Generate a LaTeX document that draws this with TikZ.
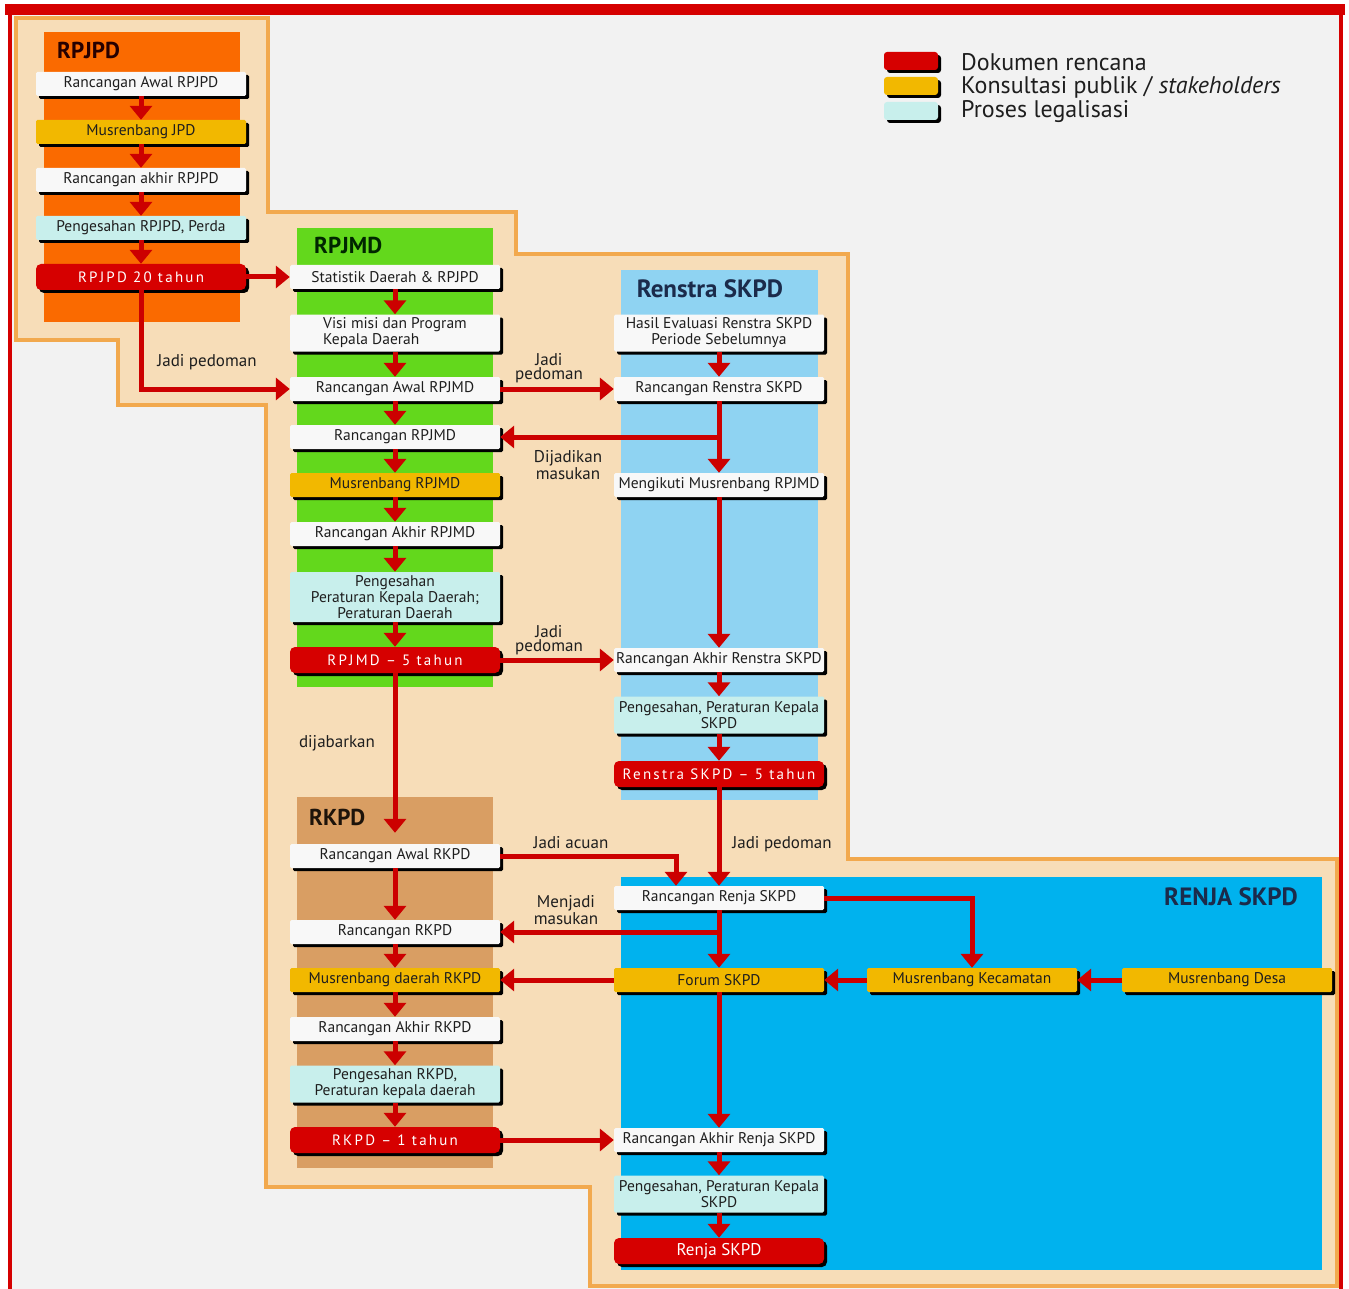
\documentclass[tikz,border=0pt]{standalone}
\usepackage{fontspec}
\setmainfont{PT Sans}
\newfontfamily\ptsans{PT Sans}
\newfontfamily\ptspaced[LetterSpace=15]{PT Sans}
\usetikzlibrary{arrows.meta,shadows}
\definecolor{bggray}{HTML}{F2F2F2}
\definecolor{framered}{HTML}{D50000}
\definecolor{beige}{HTML}{F7DDB8}
\definecolor{beigeedge}{HTML}{F2A94E}
\definecolor{pnlorange}{HTML}{FA6A00}
\definecolor{pnlgreen}{HTML}{63D81C}
\definecolor{pnlltblue}{HTML}{8FD3F2}
\definecolor{pnltan}{HTML}{D99E63}
\definecolor{pnlblue}{HTML}{00B2EE}
\definecolor{boxwhite}{HTML}{F8F8F8}
\definecolor{boxyellow}{HTML}{F2B800}
\definecolor{boxcyan}{HTML}{C8EFEC}
\definecolor{boxred}{HTML}{D60000}
\definecolor{arrred}{HTML}{CC0000}
\definecolor{txtdark}{HTML}{1E1E1E}
\definecolor{ttlnavy}{HTML}{1B2B4B}
\newcommand\bxfont{\ptsans\fontsize{15.5}{16}\selectfont}
\newcommand\redfont{\ptspaced\fontsize{15}{16}\selectfont}
\newcommand\lblfont{\ptsans\fontsize{17}{14.5}\selectfont}
\newcommand\ttlfont{\ptsans\bfseries\fontsize{23}{24}\selectfont}
\newcommand\bigttlfont{\ptsans\bfseries\fontsize{25}{26}\selectfont}
\newcommand\legfont{\ptsans\fontsize{24}{26}\selectfont}
\tikzset{
 bx/.style={rounded corners=1.5pt, minimum width=210pt, minimum height=24pt,
   inner sep=1pt, align=center, font=\bxfont, text=txtdark,
   drop shadow={shadow xshift=3pt, shadow yshift=-3pt, opacity=1, fill=black}},
 wbox/.style={bx, fill=boxwhite},
 ybox/.style={bx, fill=boxyellow},
 cbox/.style={bx, fill=boxcyan},
 rbox/.style={bx, fill=boxred, rounded corners=5pt, minimum height=26pt, text=white, font=\redfont},
 arr/.style={draw=arrred, line width=5pt, -{Triangle[width=22pt,length=14pt]}},
 lbl/.style={font=\lblfont, text=txtdark, align=center, inner sep=0pt},
 ttl/.style={font=\ttlfont, inner sep=0pt},
 legbox/.style={rounded corners=3pt, minimum width=54pt, minimum height=18pt, inner sep=0pt,
   drop shadow={shadow xshift=3pt, shadow yshift=-3pt, opacity=1, fill=black}},
 legtxt/.style={font=\legfont, text=txtdark, anchor=west, inner sep=0pt},
}
\begin{document}
\begin{tikzpicture}[x=1pt,y=-1pt]
\useasboundingbox (0,0) rectangle (1349,1289);
% frame
\fill[white] (0,0) rectangle (1349,1289);
\fill[bggray] (10,14) rectangle (1341,1289);
\fill[framered] (5,4) rectangle (1345,15);
\draw[framered, line width=4pt] (10,4) -- (10,1289);
\draw[framered, line width=4pt] (1341,4) -- (1341,1289);
% beige stair region
\draw[beigeedge, line width=4pt, fill=beige] (16,18) -- (268,18) -- (268,212) -- (516,212) -- (516,254)
  -- (848,254) -- (848,859) -- (1337,859) -- (1337,1286) -- (590,1286) -- (590,1187)
  -- (266,1187) -- (266,405) -- (118,405) -- (118,340) -- (16,340) -- cycle;
% panels
\fill[pnlorange] (44,32) rectangle (240,322);
\fill[pnlgreen] (297,228) rectangle (493,687);
\fill[pnlltblue] (621,270) rectangle (818,800);
\fill[pnltan] (297,797) rectangle (493,1168);
\fill[pnlblue] (621,877) rectangle (1322,1270);
% panel titles
\node[ttl, anchor=west, text=black!85!red] (tRPJPD) at (57,50) {RPJPD};
\node[ttl, anchor=west, text=black!85!green] (tRPJMD) at (314,245) {RPJMD};
\node[ttl, font=\bigttlfont, text=ttlnavy] (tRenstra) at (710,289) {Renstra SKPD};
\node[ttl, anchor=west, text=black!85!brown] (tRKPD) at (309,817) {RKPD};
\node[ttl, font=\bigttlfont, text=ttlnavy] (tRenja) at (1231,897) {RENJA SKPD};
% legend
\node[legbox, fill=boxred] (lg1) at (911,61) {};
\node[legbox, fill=boxyellow] (lg2) at (911,86) {};
\node[legbox, fill=boxcyan] (lg3) at (911,111) {};
\node[legtxt] (lt1) at (961,62) {Dokumen rencana};
\node[legtxt] (lt2) at (961,87) {Konsultasi publik / \textit{stakeholders}};
\node[legtxt] (lt3) at (961,112) {Proses legalisasi};
% RPJPD column
\node[wbox] (p1) at (141,84) {Rancangan Awal RPJPD};
\node[ybox] (p2) at (141,132) {Musrenbang JPD};
\node[wbox] (p3) at (141,180) {Rancangan akhir RPJPD};
\node[cbox] (p4) at (141,228) {Pengesahan RPJPD, Perda};
\node[rbox] (p5) at (141,277) {RPJPD 20 tahun};
% RPJMD column
\node[wbox] (m1) at (395,277) {Statistik Daerah \& RPJPD};
\node[wbox, minimum height=37pt, align=left] (m2) at (395,333) {Visi misi dan Program\\Kepala Daerah};
\node[wbox] (m3) at (395,389) {Rancangan Awal RPJMD};
\node[wbox] (m4) at (395,437) {Rancangan RPJMD};
\node[ybox] (m5) at (395,485) {Musrenbang RPJMD};
\node[wbox] (m6) at (395,534) {Rancangan Akhir RPJMD};
\node[cbox, minimum height=50pt] (m7) at (395,597) {Pengesahan\\Peraturan Kepala Daerah;\\Peraturan Daerah};
\node[rbox] (m8) at (395,660) {RPJMD \textendash\ 5 tahun};
% Renstra column
\node[wbox, minimum height=37pt] (s1) at (719,333) {Hasil Evaluasi Renstra SKPD\\Periode Sebelumnya};
\node[wbox] (s2) at (719,389) {Rancangan Renstra SKPD};
\node[wbox] (s3) at (719,485) {Mengikuti Musrenbang RPJMD};
\node[wbox] (s4) at (719,660) {Rancangan Akhir Renstra SKPD};
\node[cbox, minimum height=37pt] (s5) at (719,715) {Pengesahan, Peraturan Kepala\\SKPD};
\node[rbox] (s6) at (719,774) {Renstra SKPD \textendash\ 5 tahun};
% RKPD column
\node[wbox] (k1) at (395,856) {Rancangan Awal RKPD};
\node[wbox] (k2) at (395,932) {Rancangan RKPD};
\node[ybox] (k3) at (395,980) {Musrenbang daerah RKPD};
\node[wbox] (k4) at (395,1029) {Rancangan Akhir RKPD};
\node[cbox, minimum height=37pt] (k5) at (395,1084) {Pengesahan RKPD,\\Peraturan kepala daerah};
\node[rbox] (k6) at (395,1140) {RKPD \textendash\ 1 tahun};
% Renja column
\node[wbox] (r1) at (719,898) {Rancangan Renja SKPD};
\node[ybox] (r2) at (719,980) {Forum SKPD};
\node[ybox] (r3) at (972,980) {Musrenbang Kecamatan};
\node[ybox] (r4) at (1227,980) {Musrenbang Desa};
\node[wbox] (r5) at (719,1140) {Rancangan Akhir Renja SKPD};
\node[cbox, minimum height=37pt] (r6) at (719,1194) {Pengesahan, Peraturan Kepala\\SKPD};
\node[rbox, font=\ptsans\fontsize{17}{18}\selectfont] (r7) at (719,1251) {Renja SKPD};
% chains
\foreach \a/\b in {p1/p2,p2/p3,p3/p4,p4/p5,m1/m2,m2/m3,m3/m4,m4/m5,m5/m6,m6/m7,m7/m8,
  s1/s2,s2/s3,s3/s4,s4/s5,s5/s6,k1/k2,k2/k3,k3/k4,k4/k5,k5/k6,s6/r1,r1/r2,r2/r5,r5/r6,r6/r7}
  \draw[arr] (\a.south) -- (\b.north);
% cross links
\draw[arr] (p5.east) -- (m1.west);
\draw[arr] (p5.south) |- (m3.west);
\draw[arr] (m3.east) -- (s2.west);
\draw[arr] (s2.south |- m4.east) -- (m4.east);
\draw[arr] (m8.east) -- (s4.west);
\draw[arr, shorten >=11pt] (m8.south) -- (k1.north);
\draw[arr] (k1.east) -| ([xshift=-43pt]r1.north);
\draw[arr] (r1.south |- k2.east) -- (k2.east);
\draw[arr] (r1.east) -| (r3.north);
\draw[arr] (r4.west) -- (r3.east);
\draw[arr] (r3.west) -- (r2.east);
\draw[arr] (r2.west) -- (k3.east);
\draw[arr] (k6.east) -- (r5.west);
% labels
\node[lbl] (l1) at (207,362) {Jadi pedoman};
\node[lbl] (l2) at (549,368) {Jadi\\pedoman};
\node[lbl] (l3) at (568,465) {Dijadikan\\masukan};
\node[lbl] (l4) at (549,640) {Jadi\\pedoman};
\node[lbl] (l5) at (337,743) {dijabarkan};
\node[lbl] (l6) at (571,843) {Jadi acuan};
\node[lbl] (l7) at (782,844) {Jadi pedoman};
\node[lbl] (l8) at (566,910) {Menjadi\\masukan};
\end{tikzpicture}
\end{document}
